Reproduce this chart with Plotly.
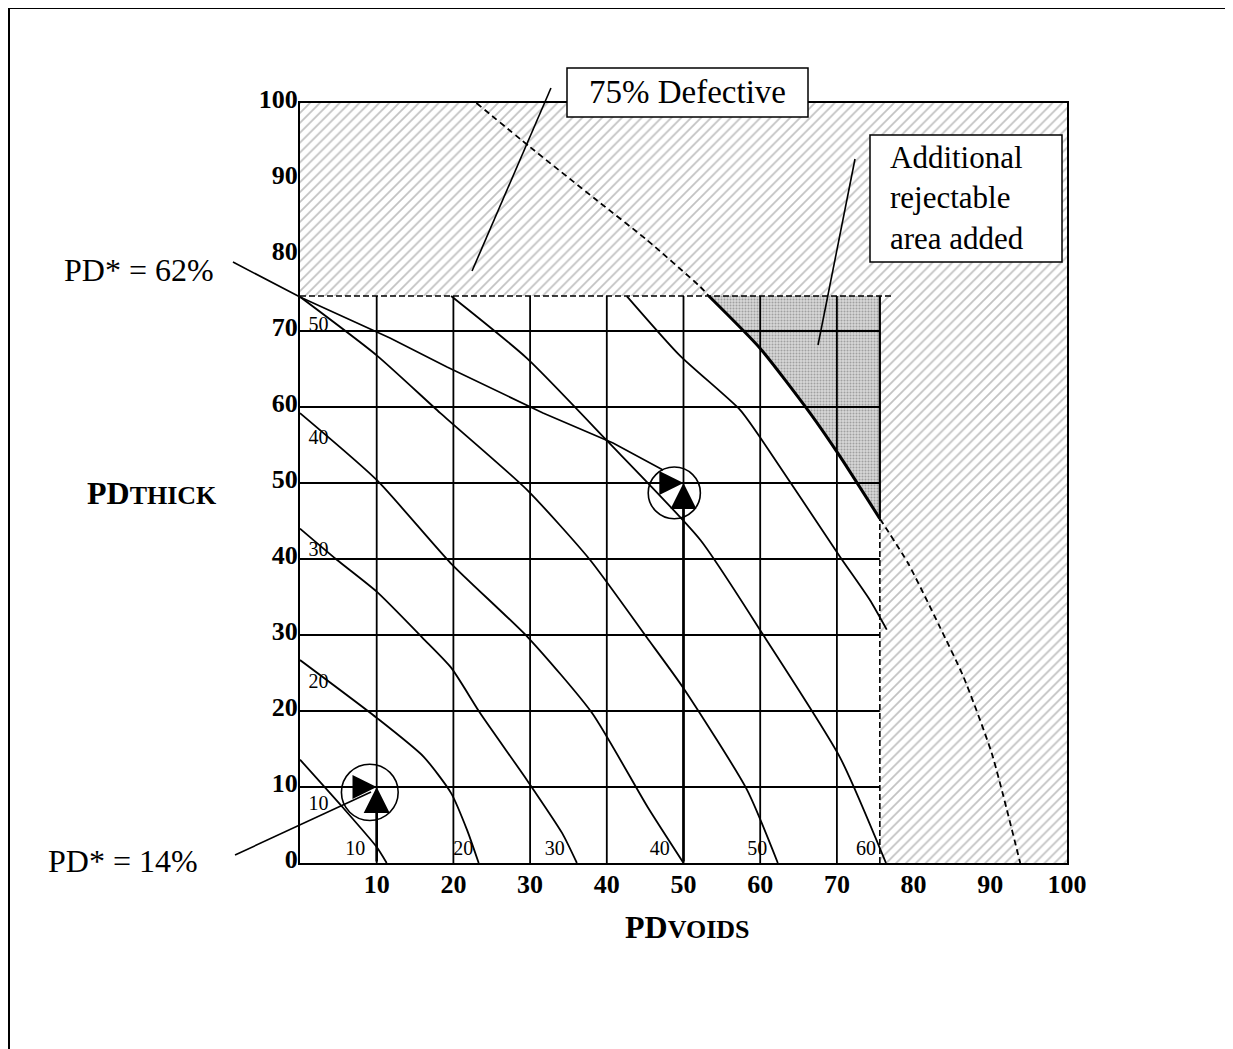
import plotly.graph_objects as go

# ---------------- data ----------------
x_ticks = [10, 20, 30, 40, 50, 60, 70, 80, 90, 100]
y_ticks = [0, 10, 20, 30, 40, 50, 60, 70, 80, 90, 100]
grid_vals = [10, 20, 30, 40, 50, 60, 70]
limit_x = 75.6          # acceptance limit PDVOIDS
limit_y = 74.6          # acceptance limit PDTHICK
top_dash_end = 77.3

# iso-PD contours
c10_x = [0, 5.5, 10, 11.3]
c10_y = [13.6, 7.4, 2.1, 0]
c20_x = [0, 10, 16.1, 19.7, 21.8, 23.3]
c20_y = [26.7, 19.1, 14.0, 9.2, 4.3, 0]
c30_x = [0, 4.8, 10, 16.0, 19.7, 23.5, 29.6, 34.2, 36.1]
c30_y = [44.0, 39.9, 35.7, 29.6, 25.7, 19.7, 10.9, 3.9, 0]
c40_x = [0, 10, 19.6, 29.8, 38.1, 45.3, 50.0]
c40_y = [59.2, 50.4, 39.5, 29.6, 19.7, 7.4, 0]
c50_x = [0, 10, 18.3, 29.6, 37.8, 45.2, 50.0, 58.3, 62.3]
c50_y = [74.5, 66.8, 59.2, 49.1, 39.9, 29.7, 23.0, 9.6, 0]
c60_x = [19.7, 29.6, 39.9, 52.2, 60.4, 70.4, 76.4]
c60_y = [74.6, 66.4, 55.7, 42.5, 30.0, 13.9, 0]
c70_x = [42.6, 49.5, 57.4, 60.2, 70.4, 74.3, 76.5]
c70_y = [74.6, 66.8, 59.6, 55.7, 40.3, 34.6, 30.7]
contours = [(c10_x, c10_y), (c20_x, c20_y), (c30_x, c30_y), (c40_x, c40_y),
            (c50_x, c50_y), (c60_x, c60_y), (c70_x, c70_y)]

# 75% defective curve
d75_x = [23.0, 30.0, 38.7, 45.2, 52.2, 53.3, 60.0, 66.5, 70.4, 75.6, 79.3, 83.4, 86.5, 90.2, 93.9]
d75_y = [100.0, 94.2, 87.2, 82.0, 75.8, 74.6, 67.7, 59.2, 53.5, 45.3, 39.4, 31.1, 24.5, 14.4, 0]
seg_a = 5   # index where curve meets limit_y
seg_b = 9   # index where curve meets limit_x

# contour labels
left_lab_text = ["50", "40", "30", "20", "10"]
left_lab_y = [70.7, 55.8, 41.0, 23.7, 7.6]
bot_lab_text = ["10", "20", "30", "40", "50", "60"]
bot_lab_x = [7.2, 21.3, 33.2, 46.9, 59.6, 73.8]

# worked examples
ex_points = [(10, 10), (50, 50)]
ex_circles = [(9.1, 9.3, 3.7), (48.8, 48.7, 3.4)]

FONT = "Liberation Serif"

# screen-pixel -> paper helpers (page body has an 8px margin)
BODY = 8
FIG_W, FIG_H = 1233 - BODY, 1049 - BODY
PL, PW, PB, PH = 300, 767, 863, 760
def px(v):
    return (v - PL) / PW
def py(v):
    return (PB - v) / PH

fig = go.Figure()

# hatched rejection region
hx = [0, limit_x, limit_x, 100, 100, 0, 0]
hy = [limit_y, limit_y, 0, 0, 100, 100, limit_y]
fig.add_trace(go.Scatter(x=hx, y=hy, mode="lines", fill="toself",
                         line=dict(width=0), fillcolor="white",
                         fillpattern=dict(shape="/", fgcolor="#858585", bgcolor="white",
                                          size=7, solidity=0.25),
                         hoverinfo="skip", showlegend=False))

# additional rejectable triangle
tx = [d75_x[seg_a], limit_x, limit_x] + d75_x[seg_b:seg_a - 1:-1]
ty = [limit_y, limit_y, d75_y[seg_b]] + d75_y[seg_b:seg_a - 1:-1]
fig.add_trace(go.Scatter(x=tx, y=ty, mode="lines", fill="toself",
                         line=dict(width=0), fillcolor="#c8c8c8",
                         fillpattern=dict(shape=".", fgcolor="#6a6a6a", bgcolor="#d6d6d6",
                                          size=3, solidity=0.35),
                         hoverinfo="skip", showlegend=False))

# grid
gx, gy = [], []
for v in grid_vals:
    gx += [v, v, None]
    gy += [0, limit_y, None]
    gx += [0, limit_x, None]
    gy += [v, v, None]
fig.add_trace(go.Scatter(x=gx, y=gy, mode="lines", line=dict(color="black", width=1.8),
                         hoverinfo="skip", showlegend=False))

# contours
for cx, cy in contours:
    fig.add_trace(go.Scatter(x=cx, y=cy, mode="lines",
                             line=dict(color="black", width=1.8, shape="spline", smoothing=0.6),
                             hoverinfo="skip", showlegend=False))

# 75% defective curve: dashed / solid / dashed
fig.add_trace(go.Scatter(x=d75_x[:seg_a + 1], y=d75_y[:seg_a + 1], mode="lines",
                         line=dict(color="black", width=1.8, dash="6px,4px", shape="spline", smoothing=0.6),
                         hoverinfo="skip", showlegend=False))
fig.add_trace(go.Scatter(x=d75_x[seg_a:seg_b + 1], y=d75_y[seg_a:seg_b + 1], mode="lines",
                         line=dict(color="black", width=3, shape="spline", smoothing=0.6),
                         hoverinfo="skip", showlegend=False))
fig.add_trace(go.Scatter(x=d75_x[seg_b:], y=d75_y[seg_b:], mode="lines",
                         line=dict(color="black", width=1.8, dash="6px,4px", shape="spline", smoothing=0.6),
                         hoverinfo="skip", showlegend=False))

# acceptance-limit boundary lines
fig.add_trace(go.Scatter(x=[0, top_dash_end], y=[limit_y, limit_y], mode="lines",
                         line=dict(color="black", width=1.6, dash="6px,3px"),
                         hoverinfo="skip", showlegend=False))
fig.add_trace(go.Scatter(x=[limit_x, limit_x], y=[0, d75_y[seg_b]], mode="lines",
                         line=dict(color="black", width=1.6, dash="6px,3px"),
                         hoverinfo="skip", showlegend=False))
fig.add_trace(go.Scatter(x=[limit_x, limit_x], y=[d75_y[seg_b], limit_y], mode="lines",
                         line=dict(color="black", width=2.2),
                         hoverinfo="skip", showlegend=False))

# contour labels
fig.add_trace(go.Scatter(x=[2.4] * len(left_lab_y), y=left_lab_y, mode="text",
                         text=left_lab_text, textposition="middle center",
                         textfont=dict(family=FONT, size=20, color="black"),
                         hoverinfo="skip", showlegend=False))
fig.add_trace(go.Scatter(x=bot_lab_x, y=[1.7] * len(bot_lab_x), mode="text",
                         text=bot_lab_text, textposition="middle center",
                         textfont=dict(family=FONT, size=20, color="black"),
                         hoverinfo="skip", showlegend=False))

shapes = []
# circles around worked examples
for cx, cy, r in ex_circles:
    shapes.append(dict(type="circle", xref="x", yref="y", x0=cx - r, x1=cx + r,
                       y0=cy - r, y1=cy + r, line=dict(color="black", width=1.6)))

# leader lines
def seg(p):
    return "M " + " L ".join(f"{px(a):.4f},{py(b):.4f}" for a, b in p)
lead62 = [(233, 262), (300, 297), (390, 338), (447, 367), (543, 413), (613, 443), (663, 470)]
lead14 = [(235, 855), (371, 792)]
lead75 = [(551, 88), (472, 271)]
leadadd = [(855, 159), (818, 345)]
for p in (lead62, lead14, lead75, leadadd):
    shapes.append(dict(type="path", xref="paper", yref="paper", path=seg(p),
                       line=dict(color="black", width=1.6)))

# label boxes
shapes.append(dict(type="rect", xref="paper", yref="paper", x0=px(567), x1=px(808),
                   y0=py(117), y1=py(68), line=dict(color="black", width=1.5), fillcolor="white"))
shapes.append(dict(type="rect", xref="paper", yref="paper", x0=px(870), x1=px(1062),
                   y0=py(262), y1=py(135), line=dict(color="black", width=1.5), fillcolor="white"))
# page frame
shapes.append(dict(type="line", xref="paper", yref="paper", x0=px(9), x1=px(9),
                   y0=py(8), y1=py(1049), line=dict(color="black", width=2)))
shapes.append(dict(type="line", xref="paper", yref="paper", x0=px(9), x1=px(1233),
                   y0=py(8), y1=py(8), line=dict(color="black", width=2)))

annotations = []
# arrows to worked examples
for ex, ey in ex_points:
    annotations.append(dict(x=ex, y=ey, ax=0, ay=ey, xref="x", yref="y", axref="x", ayref="y",
                            text="", showarrow=True, arrowhead=2, arrowsize=2.2, arrowwidth=2.2,
                            arrowcolor="black", standoff=0))
    annotations.append(dict(x=ex, y=ey, ax=ex, ay=0, xref="x", yref="y", axref="x", ayref="y",
                            text="", showarrow=True, arrowhead=2, arrowsize=2.0, arrowwidth=2.6,
                            arrowcolor="black", standoff=0))

big = dict(family=FONT, size=31, color="black")
annotations += [
    dict(x=px(139), y=py(270), xref="paper", yref="paper", text="PD* = 62%", showarrow=False,
         font=dict(family=FONT, size=32, color="black"), xanchor="center", yanchor="middle"),
    dict(x=px(123), y=py(861), xref="paper", yref="paper", text="PD* = 14%", showarrow=False,
         font=dict(family=FONT, size=32, color="black"), xanchor="center", yanchor="middle"),
    dict(x=px(687), y=py(92), xref="paper", yref="paper", text="75% Defective", showarrow=False,
         font=dict(family=FONT, size=33, color="black"), xanchor="center", yanchor="middle"),
    dict(x=px(888), y=py(198), xref="paper", yref="paper",
         text="Additional<br>rejectable<br>area added", showarrow=False, align="left",
         font=big, xanchor="left", yanchor="middle"),
    dict(x=px(152), y=py(493), xref="paper", yref="paper",
         text="<b>PD<span style='font-size:26px'>THICK</span></b>", showarrow=False,
         font=dict(family=FONT, size=32, color="black"), xanchor="center", yanchor="middle"),
    dict(x=px(687), y=py(927), xref="paper", yref="paper",
         text="<b>PD<span style='font-size:26px'>VOIDS</span></b>", showarrow=False,
         font=dict(family=FONT, size=32, color="black"), xanchor="center", yanchor="middle"),
]

tickfont = dict(family=FONT, size=26, color="black", weight="bold")
fig.update_layout(
    width=FIG_W, height=FIG_H,
    margin=dict(l=PL - BODY, r=FIG_W - (PL - BODY) - PW, t=PB - PH - BODY,
                b=FIG_H - (PB - BODY), pad=0),
    paper_bgcolor="white", plot_bgcolor="white",
    showlegend=False,
    shapes=shapes, annotations=annotations,
    xaxis=dict(range=[0, 100], tickvals=x_ticks, ticktext=[str(v) for v in x_ticks],
               showgrid=False, zeroline=False, showline=True, linecolor="black", linewidth=2,
               mirror=True, ticks="", tickfont=tickfont, ticklabelstandoff=-3),
    yaxis=dict(range=[0, 100], tickvals=y_ticks, ticktext=[str(v) for v in y_ticks],
               showgrid=False, zeroline=False, showline=True, linecolor="black", linewidth=2,
               mirror=True, ticks="", tickfont=tickfont, ticklabelshift=-4, ticklabelstandoff=-5),
)

fig.write_html("out.html")
